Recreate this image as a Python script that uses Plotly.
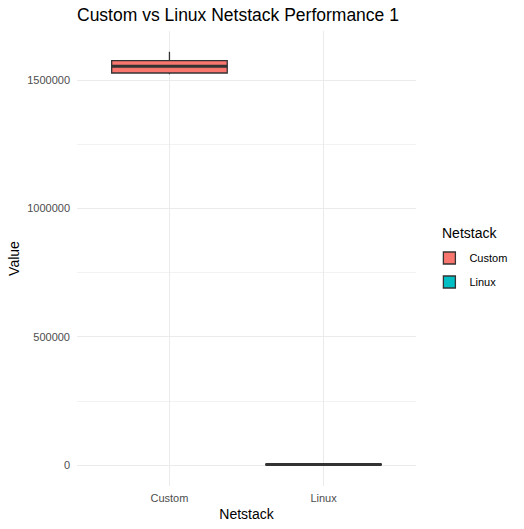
import plotly.graph_objects as go

categories = ["Custom", "Linux"]
lower_whisker = [1523300, 1000]
q1_values = [1528300, 2000]
median_values = [1554400, 3000]
q3_values = [1576500, 4500]
upper_whisker = [1611500, 6000]
fill_colors = ["#F8766D", "#00BFC4"]
y_ticks = [0, 500000, 1000000, 1500000]

positions = [1, 2]
box_width = 0.75
line_col = "#333333"

fig = go.Figure()
for i, cat in enumerate(categories):
    fig.add_trace(go.Box(
        x=[positions[i]], q1=[q1_values[i]], median=[median_values[i]], q3=[q3_values[i]],
        lowerfence=[lower_whisker[i]], upperfence=[upper_whisker[i]],
        name=cat, legendgroup=cat, fillcolor=fill_colors[i], line=dict(color=line_col, width=1.3),
        width=box_width, whiskerwidth=0, boxpoints=False, hoverinfo="skip",
    ))
    fig.add_trace(go.Scatter(
        x=[positions[i] - box_width / 2, positions[i] + box_width / 2],
        y=[median_values[i], median_values[i]], mode="lines", legendgroup=cat,
        line=dict(color=line_col, width=3), showlegend=False, hoverinfo="skip",
    ))

font = "Liberation Sans, Arial, sans-serif"
fig.update_layout(
    width=524, height=529,
    margin=dict(l=77, r=108, t=31, b=43, autoexpand=False),
    paper_bgcolor="white", plot_bgcolor="white",
    boxmode="overlay",
    font=dict(family=font, color="black"),
    title=dict(text="Custom vs Linux Netstack Performance 1", x=0, xref="paper", xanchor="left",
               y=1 - 15 / 529, yref="container", yanchor="middle",
               font=dict(size=17.5, color="black")),
    xaxis=dict(range=[0.4, 2.6], tickvals=positions, ticktext=categories, automargin=False,
               showgrid=True, gridcolor="#EBEBEB", gridwidth=1.1, zeroline=False,
               showline=False, ticks="", ticklabelstandoff=4, tickfont=dict(size=11, color="#4D4D4D"),
               title=dict(text="Netstack", font=dict(size=14, color="black"), standoff=6)),
    yaxis=dict(range=[-80575, 1692000], tickvals=y_ticks, ticktext=[str(v) for v in y_ticks],
               automargin=False,
               showgrid=True, gridcolor="#EBEBEB", gridwidth=1.1, zeroline=False,
               showline=False, ticks="", ticklabelstandoff=6, tickfont=dict(size=11, color="#4D4D4D"),
               minor=dict(tickvals=[250000, 750000, 1250000], showgrid=True,
                          gridcolor="#F2F2F2", gridwidth=0.6),
               title=dict(text="Value", font=dict(size=14, color="black"), standoff=4)),
    legend=dict(x=1.0395, xanchor="left", y=0.4747, yanchor="middle", traceorder="grouped",
                tracegroupgap=5,
                font=dict(size=11, color="black"), bgcolor="rgba(0,0,0,0)"),
    annotations=[dict(text="Netstack", xref="paper", yref="paper", x=1.0708, y=0.556,
                      xanchor="left", yanchor="middle", showarrow=False,
                      font=dict(size=14, color="black"))],
)

fig.write_html("out.html")
